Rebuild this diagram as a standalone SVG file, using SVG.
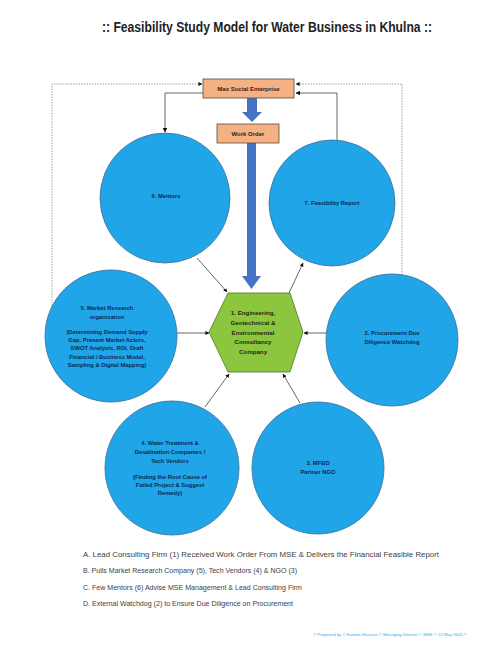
<svg xmlns="http://www.w3.org/2000/svg" width="503" height="646" viewBox="0 0 503 646">
<style>
.title{font-family:"Liberation Sans",Arial,sans-serif;font-weight:bold;font-size:14px;fill:#222}
.bt{font-family:"Liberation Sans",Arial,sans-serif;font-weight:bold;font-size:6px;fill:#3a1a0a;text-anchor:middle}
.ct{font-family:"Liberation Sans",Arial,sans-serif;font-weight:bold;font-size:5.8px;fill:#0d2a55;text-anchor:middle}
.ht{font-family:"Liberation Sans",Arial,sans-serif;font-weight:bold;font-size:6.2px;fill:#1e2a10;text-anchor:middle}
.lg{font-family:"Liberation Sans",Arial,sans-serif;font-size:7.2px;fill:#404040}
.ft{font-family:"Liberation Sans",Arial,sans-serif;font-size:4.2px;fill:#2bb0ea}
.circ{fill:#1fa5e8;stroke:#3d6d96;stroke-width:0.8}
.box{fill:#f4b183;stroke:#5a4a40;stroke-width:0.8}
.hex{fill:#8cc63e;stroke:#4f7a2a;stroke-width:0.8}
.con{fill:none;stroke:#404040;stroke-width:0.8}
.dash{fill:none;stroke:#8a8a8a;stroke-width:0.8;stroke-dasharray:1.5,1.2}
.inner{fill:none;stroke:#555;stroke-width:0.9}
.blue{fill:#4472c4}
</style>
<defs>
<marker id="ah" viewBox="0 0 10 10" refX="9" refY="5" markerWidth="5" markerHeight="5" orient="auto">
<path d="M0,0 L10,5 L0,10 z" fill="#111"/>
</marker>
</defs>
<rect width="503" height="646" fill="#fff"/>
<text class="title" x="267" y="32" text-anchor="middle" textLength="330" lengthAdjust="spacingAndGlyphs">:: Feasibility Study Model for Water Business in Khulna ::</text>

<g id="connectors">
<path class="dash" d="M52,306 L52,84 L202,84" marker-end="url(#ah)"/>
<path class="inner" d="M203,93 L165,93 L165,132" marker-end="url(#ah)"/>
<path class="dash" d="M402,275 L402,84 L296,84" marker-end="url(#ah)"/>
<path class="inner" d="M337,140 L337,93 L296,93" marker-end="url(#ah)"/>
<path class="blue" d="M247,98 L257,98 L257,112 L262,112 L252,122 L242,112 L247,112 z"/>
<path class="blue" d="M247,143 L256,143 L256,276 L261,276 L251.5,289 L242,276 L247,276 z"/>
<path class="con" d="M197,258 L227,292" marker-end="url(#ah)"/>
<path class="con" d="M289,293 L303,263" marker-end="url(#ah)"/>
<path class="con" d="M177,333 L209,333" marker-end="url(#ah)"/>
<path class="con" d="M327,333 L304,333" marker-end="url(#ah)"/>
<path class="con" d="M205,407 L229,374" marker-end="url(#ah)"/>
<path class="con" d="M300,403 L283,374" marker-end="url(#ah)"/>
</g>

<g id="mse">
<rect class="box" x="203" y="79" width="91" height="19"/>
<text class="bt" x="248.5" y="90.5">Max Social Enterprise</text>
</g>
<g id="work-order">
<rect class="box" x="217" y="124" width="62" height="19"/>
<text class="bt" x="248" y="135.5">Work Order</text>
</g>

<g id="node6">
<circle class="circ" cx="165" cy="198" r="65"/>
<text class="ct" x="166" y="198">6. Mentors</text>
</g>
<g id="node7">
<circle class="circ" cx="332" cy="203" r="63"/>
<text class="ct" x="332" y="205">7. Feasibility Report</text>
</g>
<g id="node5">
<circle class="circ" cx="111" cy="336" r="66"/>
<text class="ct" x="107" y="310">5. Market Research</text>
<text class="ct" x="107" y="319">organization</text>
<text class="ct" x="107" y="334">(Determining Demand Supply</text>
<text class="ct" x="107" y="342">Gap, Present Market Actors,</text>
<text class="ct" x="107" y="350">SWOT Analysis, ROI, Draft</text>
<text class="ct" x="107" y="359">Financial / Business Model,</text>
<text class="ct" x="107" y="367">Sampling &amp; Digital Mapping)</text>
</g>
<g id="node1">
<polygon class="hex" points="209,332 228,293 290,293 303,332 290,372 228,372"/>
<text class="ht" x="253" y="315">1. Engineering,</text>
<text class="ht" x="253" y="325">Geotechnical &amp;</text>
<text class="ht" x="253" y="335">Environmental</text>
<text class="ht" x="253" y="344">Consultancy</text>
<text class="ht" x="253" y="354">Company</text>
</g>
<g id="node2">
<circle class="circ" cx="392" cy="340" r="66"/>
<text class="ct" x="392" y="335">2. Procurement Due</text>
<text class="ct" x="392" y="344">Diligence Watchdog</text>
</g>
<g id="node4">
<circle class="circ" cx="172" cy="468" r="67"/>
<text class="ct" x="170" y="445">4. Water Treatment &amp;</text>
<text class="ct" x="170" y="454">Desalination Companies /</text>
<text class="ct" x="170" y="463">Tech Vendors</text>
<text class="ct" x="170" y="479">(Finding the Root Cause of</text>
<text class="ct" x="170" y="487">Failed Project &amp; Suggest</text>
<text class="ct" x="170" y="495">Remedy)</text>
</g>
<g id="node3">
<circle class="circ" cx="318" cy="468" r="66"/>
<text class="ct" x="318" y="465">3. MFBD</text>
<text class="ct" x="318" y="474">Partner NGO</text>
</g>

<g id="legend">
<text class="lg" x="83" y="556.5" textLength="356" lengthAdjust="spacingAndGlyphs">A. Lead Consulting Firm (1) Received Work Order From MSE &amp; Delivers the Financial Feasible Report</text>
<text class="lg" x="83" y="573" textLength="214" lengthAdjust="spacingAndGlyphs">B. Pulls Market Research Company (5), Tech Vendors (4)  &amp; NGO (3)</text>
<text class="lg" x="83" y="589.5" textLength="219" lengthAdjust="spacingAndGlyphs">C. Few Mentors (6) Advise MSE Management &amp; Lead Consulting Firm</text>
<text class="lg" x="83" y="605.5" textLength="210" lengthAdjust="spacingAndGlyphs">D. External Watchdog (2) to Ensure Due Diligence on Procurement</text>
<text class="ft" x="313" y="636" textLength="154" lengthAdjust="spacingAndGlyphs">© Proposed by © Faiman Hossain © Managing Director © MSE © 22 May 2020 ©</text>
</g>
</svg>
